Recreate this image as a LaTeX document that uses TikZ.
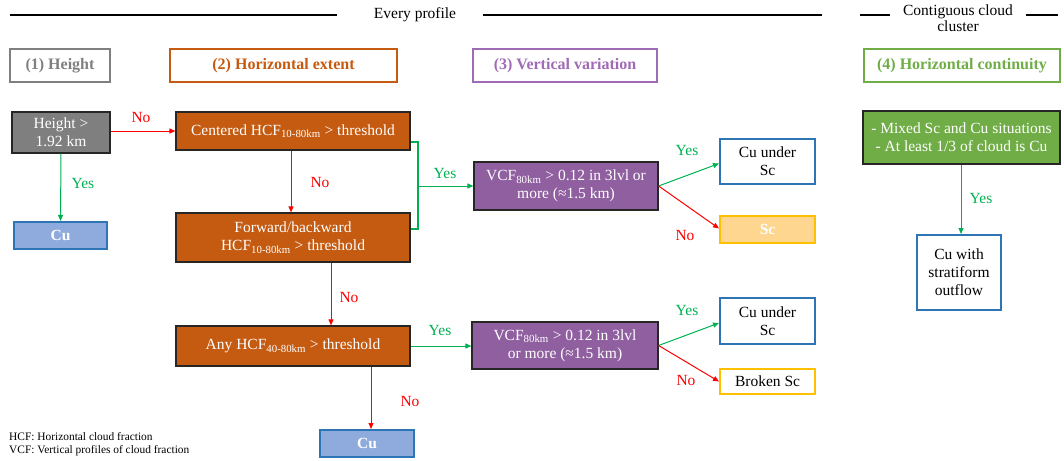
\documentclass[tikz,border=0pt]{standalone}
\usepackage{fontspec}
\setmainfont{Liberation Serif}
\usetikzlibrary{arrows.meta}
\definecolor{brn}{HTML}{C55A11}
\definecolor{prp}{HTML}{8F5FA0}
\definecolor{prpl}{HTML}{A06BB5}
\definecolor{gry}{HTML}{7F7F7F}
\definecolor{grn}{HTML}{70AD47}
\definecolor{cub}{HTML}{8FAADC}
\definecolor{blu}{HTML}{2E75B6}
\definecolor{scf}{HTML}{FFD68F}
\definecolor{gold}{HTML}{FFC000}
\definecolor{yesc}{HTML}{00B050}
\definecolor{noc}{HTML}{FF0000}
\definecolor{dk}{HTML}{262626}
\newcommand{\mf}{\fontsize{15.5}{18}\selectfont}
\tikzset{
  base/.style={rectangle, inner sep=2pt, align=center, font=\mf},
  hdr/.style={base, draw=#1, line width=2pt, text=#1, font=\fontsize{16}{18}\selectfont\bfseries, minimum height=33pt},
  fbox/.style={base, draw=dk, line width=1.2pt, fill=#1, text=white},
  cubox/.style={base, draw=blu, line width=2pt, fill=cub, text=white, font=\mf\bfseries},
  wbox/.style={base, draw=#1, line width=2pt, fill=white, text=black},
  yesarr/.style={draw=yesc, line width=1pt, -{Triangle[length=6pt,width=5pt]}},
  noarr/.style={draw=noc, line width=1pt, -{Triangle[length=6pt,width=5pt]}},
  yeslbl/.style={text=yesc, font=\mf},
  nolbl/.style={text=noc, font=\mf},
  sec/.style={font=\fontsize{15.5}{16.5}\selectfont, align=center},
  rule/.style={line width=1.5pt, black}
}
\begin{document}
\begin{tikzpicture}[x=1pt, y=-1pt]
\useasboundingbox (0,0) rectangle (1064,460);
% section titles
\node[sec] (every) at (415,15) {Every profile};
\coordinate (l1a) at (10,15); \coordinate (l1b) at (337,15);
\coordinate (l2a) at (483,15); \coordinate (l2b) at (822,15);
\draw[rule] (l1a) -- (l1b);
\draw[rule] (l2a) -- (l2b);
\node[sec] (contig) at (958,18) {Contiguous cloud\\cluster};
\coordinate (l3a) at (860,15); \coordinate (l3b) at (890,15);
\coordinate (l4a) at (1026,15); \coordinate (l4b) at (1058,15);
\draw[rule] (l3a) -- (l3b);
\draw[rule] (l4a) -- (l4b);
% headers
\node[hdr=gry, minimum width=100pt] (h1) at (60,65.5) {(1) Height};
\node[hdr=brn, minimum width=227pt] (h2) at (283.5,65.5) {(2) Horizontal extent};
\node[hdr=prpl, minimum width=184pt] (h3) at (565,65.5) {(3) Vertical variation};
\node[hdr=grn, minimum width=196pt] (h4) at (962,65.5) {(4) Horizontal continuity};
% boxes
\node[fbox=gry, minimum width=98pt, minimum height=41pt] (height) at (61,132.5) {Height >\\1.92 km};
\node[cubox, minimum width=93pt, minimum height=27pt] (cu1) at (60.5,235.5) {Cu};
\node[fbox=brn, minimum width=234pt, minimum height=38pt] (cen) at (293,131) {Centered HCF\textsubscript{10-80km} > threshold};
\node[fbox=brn, minimum width=234pt, minimum height=49pt] (fwd) at (293,237.5) {Forward/backward\\HCF\textsubscript{10-80km} > threshold};
\node[fbox=brn, minimum width=234pt, minimum height=40pt] (any) at (293,346) {Any HCF\textsubscript{40-80km} > threshold};
\node[cubox, minimum width=94pt, minimum height=27pt] (cu2) at (367,443.5) {Cu};
\node[fbox=prp, minimum width=184pt, minimum height=48pt] (vcf1) at (566,186) {VCF\textsubscript{80km} > 0.12 in 3lvl or\\more (≈1.5 km)};
\node[fbox=prp, minimum width=186pt, minimum height=47pt] (vcf2) at (565,345.5) {VCF\textsubscript{80km} > 0.12 in 3lvl\\or more (≈1.5 km)};
\node[wbox=blu, minimum width=95pt, minimum height=45pt] (cus1) at (767.5,161.5) {Cu under\\Sc};
\node[base, draw=gold, line width=2pt, fill=scf, text=white, font=\mf\bfseries, minimum width=95pt, minimum height=27pt] (sc) at (767.5,229.5) {Sc};
\node[wbox=blu, minimum width=95pt, minimum height=46pt] (cus2) at (767.5,321) {Cu under\\Sc};
\node[wbox=gold, minimum width=95pt, minimum height=25pt] (bsc) at (767.5,381.5) {Broken Sc};
\node[fbox=grn, minimum width=197pt, minimum height=53pt] (mix) at (961.5,137.5) {- Mixed Sc and Cu situations\\- At least 1/3 of cloud is Cu};
\node[wbox=blu, minimum width=84pt, minimum height=75pt] (cws) at (959,272.5) {Cu with\\stratiform\\outflow};
% connectors
\draw[noarr] (height.east |- cen.west) -- (cen.west);
\node[nolbl] (n1) at (141,117) {No};
\draw[yesarr] (height.south) -- (cu1.north);
\node[yeslbl] (y1) at (83,183) {Yes};
\draw[noarr] ([xshift=-2]cen.south) -- ([xshift=-2]fwd.north);
\node[nolbl] (n2) at (320,182) {No};
\draw[noarr] ([xshift=38]fwd.south) -- ([xshift=38]any.north);
\node[nolbl] (n3) at (349,297) {No};
\draw[noarr] ([xshift=4]cu2.north |- any.south) -- ([xshift=4]cu2.north);
\node[nolbl] (n4) at (410,401) {No};
\coordinate (bt) at (418,142);
\coordinate (bb) at (418,229);
\coordinate (bm) at (418,186);
\draw[draw=yesc, line width=2pt] ([yshift=-11]cen.east) -- (bt) -- (bb) -- ([yshift=8.5]fwd.east);
\draw[yesarr] (bm) -- (vcf1.west);
\node[yeslbl] (y2) at (445,173) {Yes};
\draw[yesarr] (any.east) -- (any.east -| vcf2.west);
\node[yeslbl] (y3) at (440,330) {Yes};
\draw[yesarr] (vcf1.east) -- ([yshift=-2]cus1.west);
\node[yeslbl] (y4) at (687,150) {Yes};
\draw[noarr] (vcf1.east) -- ([yshift=1]sc.west);
\node[nolbl] (n5) at (685,235) {No};
\draw[yesarr] (vcf2.east) -- ([yshift=-2]cus2.west);
\node[yeslbl] (y5) at (687,310) {Yes};
\draw[noarr] (vcf2.east) -- (bsc.west);
\node[nolbl] (n6) at (686,380) {No};
\draw[yesarr] ([xshift=-0.5]mix.south) -- ([xshift=2]cws.north);
\node[yeslbl] (y6) at (981,198) {Yes};
% legend
\node[anchor=west, inner sep=0pt, font=\fontsize{11.4}{13.5}\selectfont, align=left] (leg) at (9,444) {HCF: Horizontal cloud fraction\\VCF: Vertical profiles of cloud fraction};
\end{tikzpicture}
\end{document}
